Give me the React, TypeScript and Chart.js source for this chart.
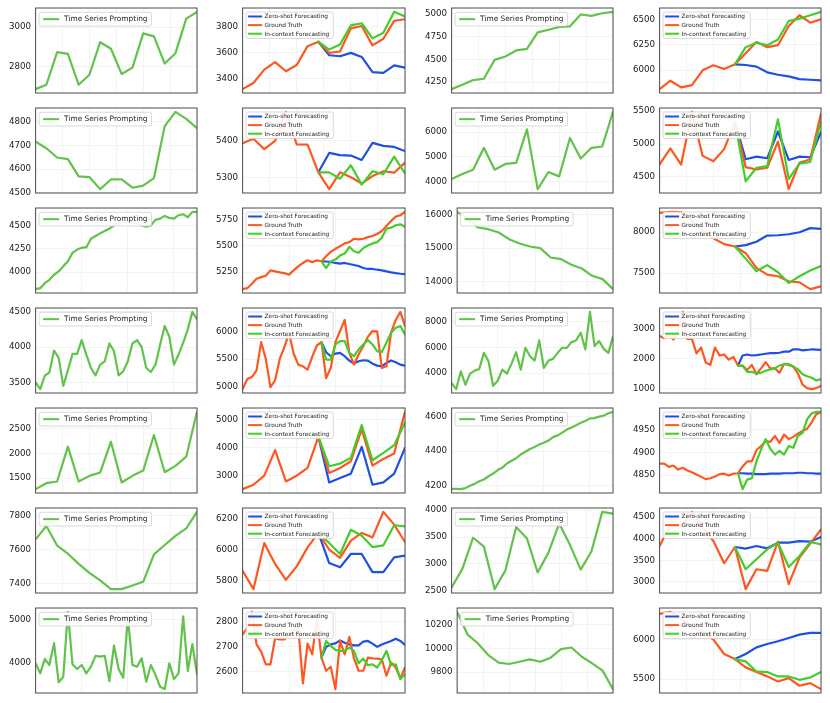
import React, { useEffect, useRef } from "react";
import { Chart, registerables } from "chart.js";

Chart.register(...registerables);

// ---------------- data ----------------
const r1c1Prompt = [2689, 2711, 2874, 2866, 2711, 2761, 2924, 2891, 2765, 2797, 2968, 2953, 2817, 2869, 3042, 3076];
const r1c1Ticks = [2800, 3000];

const r1c2Truth = [3317, 3364, 3468, 3525, 3455, 3504, 3649, 3683, 3597, 3608, 3787, 3805, 3655, 3706, 3844, 3857];
const r1c2ZeroShot = [3683, 3579, 3571, 3597, 3566, 3449, 3442, 3501, 3483];
const r1c2InContext = [3683, 3623, 3662, 3810, 3826, 3709, 3753, 3914, 3878];
const r1c2Ticks = [3400, 3600, 3800];

const r1c3Prompt = [4173, 4221, 4273, 4287, 4494, 4531, 4598, 4616, 4797, 4826, 4856, 4863, 4993, 4978, 5007, 5022];
const r1c3Ticks = [4250, 4500, 4750, 5000];

const r1c4Truth = [5809, 5893, 5826, 5849, 5997, 6047, 6010, 6057, 6168, 6279, 6228, 6248, 6440, 6547, 6473, 6507];
const r1c4ZeroShot = [6057, 6050, 6034, 5977, 5953, 5936, 5909, 5903, 5896];
const r1c4InContext = [6057, 6228, 6272, 6248, 6305, 6490, 6513, 6547, 6581];
const r1c4Ticks = [6000, 6250, 6500];

const r2c1Prompt = [4716, 4688, 4649, 4642, 4569, 4566, 4515, 4556, 4556, 4521, 4530, 4562, 4782, 4842, 4812, 4773];
const r2c1Ticks = [4500, 4600, 4700, 4800];

const r2c2Truth = [5393, 5405, 5377, 5399, 5477, 5390, 5389, 5315, 5270, 5315, 5302, 5285, 5305, 5318, 5314, 5341];
const r2c2ZeroShot = [5315, 5367, 5361, 5360, 5348, 5394, 5386, 5383, 5372];
const r2c2InContext = [5315, 5315, 5298, 5334, 5282, 5318, 5310, 5357, 5312];
const r2c2Ticks = [5300, 5400];

const r2c3Prompt = [4108, 4311, 4486, 5365, 4486, 4716, 4757, 6108, 3703, 4392, 4216, 5757, 4932, 5365, 5419, 6811];
const r2c3Ticks = [4000, 5000, 6000];

const r2c4Truth = [4691, 4933, 4686, 5490, 4820, 4737, 4923, 5335, 4649, 4613, 4639, 5036, 4314, 4716, 4768, 5464];
const r2c4ZeroShot = [5335, 4768, 4809, 4784, 5191, 4758, 4809, 4799, 5180];
const r2c4InContext = [5335, 4433, 4639, 4665, 5376, 4469, 4701, 4727, 5335];
const r2c4Ticks = [4500, 5000, 5500];

const r3c1Prompt = [3817, 3827, 3881, 3917, 3971, 4007, 4061, 4115, 4205, 4241, 4259, 4266, 4356, 4385, 4414, 4439, 4464, 4500, 4522, 4536, 4543, 4529, 4511, 4500, 4486, 4500, 4558, 4572, 4601, 4579, 4572, 4608, 4619, 4586, 4644, 4644];
const r3c1Ticks = [4000, 4250, 4500];

const r3c2Truth = [5088, 5097, 5139, 5186, 5202, 5215, 5266, 5256, 5247, 5240, 5225, 5266, 5304, 5336, 5361, 5342, 5361, 5352, 5400, 5441, 5470, 5495, 5521, 5533, 5565, 5559, 5565, 5581, 5591, 5610, 5639, 5686, 5734, 5775, 5788, 5820];
const r3c2ZeroShot = [5352, 5350, 5345, 5336, 5330, 5336, 5326, 5317, 5307, 5288, 5279, 5279, 5272, 5266, 5256, 5247, 5240, 5234, 5231];
const r3c2InContext = [5352, 5288, 5352, 5368, 5406, 5425, 5489, 5447, 5432, 5476, 5502, 5521, 5533, 5575, 5661, 5670, 5693, 5702, 5680];
const r3c2Ticks = [5250, 5500, 5750];

const r3c3Prompt = [16080, 15881, 15612, 15562, 15463, 15264, 15134, 15045, 14995, 14716, 14667, 14498, 14388, 14169, 14070, 13771];
const r3c3Ticks = [14000, 15000, 16000];

const r3c4Truth = [8235, 8248, 8245, 8145, 8021, 7926, 7855, 7826, 7744, 7566, 7483, 7463, 7401, 7388, 7306, 7339];
const r3c4ZeroShot = [7826, 7843, 7884, 7959, 7963, 7975, 8000, 8050, 8041];
const r3c4InContext = [7826, 7678, 7525, 7599, 7512, 7380, 7463, 7533, 7587];
const r3c4Ticks = [7500, 8000];

const r4c1Prompt = [3500, 3405, 3595, 3643, 3952, 3848, 3452, 3671, 3905, 3905, 4100, 3895, 3705, 3600, 3752, 3800, 4052, 3943, 3600, 3657, 3800, 4052, 4100, 4000, 3705, 3648, 3752, 4038, 4300, 4148, 3752, 3895, 4062, 4252, 4500, 4395];
const r4c1Ticks = [3500, 4000, 4500];

const r4c2Truth = [4958, 5139, 5176, 5297, 5806, 5503, 4994, 5115, 5503, 5715, 5964, 5600, 5400, 5370, 5309, 5539, 5745, 5806, 5158, 5339, 5806, 6006, 6206, 5612, 5400, 5582, 5733, 5903, 6006, 6000, 5339, 5370, 5976, 6206, 6352, 6097];
const r4c2ZeroShot = [5806, 5624, 5552, 5600, 5612, 5552, 5473, 5418, 5461, 5479, 5473, 5418, 5382, 5370, 5430, 5473, 5442, 5400, 5382];
const r4c2InContext = [5806, 5491, 5491, 5764, 5824, 5824, 5612, 5552, 5673, 5764, 5842, 5764, 5642, 5630, 5794, 5976, 6067, 6097, 5945];
const r4c2Ticks = [5000, 5500, 6000];

const r4c3Prompt = [3216, 2745, 4131, 3085, 3948, 4183, 4314, 5569, 4915, 3007, 3399, 4261, 3948, 4732, 5621, 4261, 5961, 5307, 4967, 6536, 4392, 4967, 5098, 5569, 5961, 5961, 6405, 6536, 7137, 5830, 8758, 6092, 6484, 5882, 5569, 6824];
const r4c3Ticks = [4000, 6000, 8000];

const r4c4Truth = [2747, 2678, 2793, 2632, 3000, 3550, 2655, 2655, 2172, 2368, 1874, 1793, 2368, 2103, 2138, 1966, 2057, 1770, 1770, 1621, 1793, 1483, 1678, 1885, 1678, 1678, 1529, 1828, 1793, 1736, 1506, 1138, 1023, 989, 1023, 1103];
const r4c4ZeroShot = [1770, 2103, 2138, 2103, 2115, 2138, 2161, 2184, 2184, 2195, 2230, 2230, 2310, 2310, 2276, 2287, 2310, 2299, 2287];
const r4c4InContext = [1770, 1759, 1563, 1563, 1506, 1529, 1598, 1644, 1678, 1770, 1816, 1816, 1736, 1644, 1483, 1414, 1368, 1276, 1322];
const r4c4Ticks = [1000, 2000, 3000];

const r5c1Prompt = [1280, 1400, 1433, 2133, 1433, 1547, 1613, 2233, 1413, 1547, 1653, 2367, 1620, 1747, 1933, 2833];
const r5c1Ticks = [1500, 2000, 2500];

const r5c2Truth = [2518, 2675, 3000, 3916, 2795, 3000, 3277, 4398, 3096, 3277, 3518, 4663, 3361, 3602, 3795, 5289];
const r5c2ZeroShot = [4398, 2759, 2916, 3072, 4036, 2675, 2759, 3072, 4000];
const r5c2InContext = [4398, 3337, 3434, 3639, 4819, 3554, 3819, 4096, 4904];
const r5c2Ticks = [3000, 4000, 5000];

const r5c3Prompt = [4180, 4180, 4178, 4184, 4198, 4210, 4224, 4234, 4253, 4269, 4289, 4303, 4327, 4343, 4358, 4380, 4396, 4412, 4424, 4438, 4448, 4461, 4481, 4491, 4507, 4525, 4537, 4550, 4564, 4575, 4590, 4592, 4600, 4606, 4620, 4628];
const r5c3Ticks = [4200, 4400, 4600];

const r5c4Truth = [4875, 4875, 4868, 4871, 4862, 4866, 4860, 4856, 4851, 4846, 4841, 4843, 4847, 4852, 4853, 4849, 4853, 4854, 4869, 4880, 4880, 4905, 4914, 4925, 4923, 4936, 4921, 4939, 4929, 4934, 4941, 4947, 4952, 4966, 4984, 4988];
const r5c4ZeroShot = [4854, 4854, 4853, 4853, 4852, 4852, 4852, 4853, 4853, 4853, 4854, 4854, 4854, 4855, 4855, 4854, 4854, 4853, 4853];
const r5c4InContext = [4854, 4819, 4840, 4843, 4880, 4906, 4929, 4908, 4895, 4903, 4895, 4914, 4910, 4936, 4943, 4973, 4986, 4989, 4989];
const r5c4Ticks = [4850, 4900, 4950];

const r6c1Prompt = [7660, 7738, 7624, 7576, 7517, 7464, 7420, 7369, 7369, 7390, 7412, 7572, 7627, 7681, 7724, 7821];
const r6c1Ticks = [7400, 7600, 7800];

const r6c2Truth = [5863, 5743, 6043, 5907, 5804, 5891, 6015, 6109, 6000, 5946, 6059, 6109, 6080, 6246, 6163, 6050];
const r6c2ZeroShot = [6109, 5913, 5885, 5972, 5972, 5854, 5854, 5950, 5961];
const r6c2InContext = [6109, 6043, 5972, 6130, 6091, 6017, 6028, 6159, 6152];
const r6c2Ticks = [5800, 6000, 6200];

const r6c3Prompt = [2566, 2908, 3487, 3322, 2533, 2882, 3684, 3474, 2842, 3211, 3750, 3355, 2895, 3237, 3967, 3934];
const r6c3Ticks = [2500, 3000, 3500, 4000];

const r6c4Truth = [3831, 4315, 4269, 4623, 4254, 3946, 3431, 3808, 2831, 3292, 3254, 3931, 2946, 3562, 3885, 4215];
const r6c4ZeroShot = [3808, 3769, 3831, 3777, 3908, 3908, 3946, 3931, 4038];
const r6c4InContext = [3808, 3292, 3523, 3754, 3908, 3346, 3600, 3923, 3869];
const r6c4Ticks = [3000, 3500, 4000, 4500];

const r7c1Prompt = [3984, 3750, 4086, 3945, 4453, 3539, 3672, 5180, 3961, 3852, 3945, 3750, 3906, 4156, 4141, 4156, 3570, 4398, 3852, 3648, 5050, 3945, 3906, 4102, 3555, 3945, 3711, 3438, 3383, 3984, 3617, 3750, 5078, 3805, 4430, 3727];
const r7c1Ticks = [4000, 5000];

const r7c2Truth = [2749, 2776, 2840, 2709, 2680, 2629, 2629, 2733, 2729, 2729, 2747, 2765, 2776, 2552, 2712, 2669, 2813, 2656, 2603, 2619, 2529, 2723, 2669, 2739, 2653, 2603, 2603, 2656, 2653, 2652, 2649, 2583, 2636, 2616, 2573, 2616];
const r7c2ZeroShot = [2656, 2699, 2709, 2713, 2725, 2716, 2709, 2705, 2705, 2720, 2723, 2712, 2699, 2709, 2716, 2723, 2732, 2723, 2707];
const r7c2InContext = [2656, 2723, 2703, 2687, 2683, 2683, 2696, 2683, 2633, 2652, 2625, 2629, 2616, 2645, 2683, 2627, 2629, 2569, 2589];
const r7c2Ticks = [2600, 2700, 2800];

const r7c3Prompt = [10308, 10117, 10042, 9944, 9880, 9869, 9888, 9908, 9888, 9922, 9994, 10008, 9930, 9874, 9813, 9657];
const r7c3Ticks = [9800, 10000, 10200];

const r7c4Truth = [6333, 6359, 6282, 6154, 6111, 6004, 5821, 5756, 5650, 5590, 5535, 5470, 5513, 5415, 5449, 5372];
const r7c4ZeroShot = [5756, 5821, 5906, 5949, 5983, 6026, 6068, 6090, 6090];
const r7c4InContext = [5756, 5726, 5598, 5590, 5534, 5534, 5491, 5521, 5590];
const r7c4Ticks = [5500, 6000];

const promptLabel = "Time Series Prompting";
const zeroShotLabel = "Zero-shot Forecasting";
const truthLabel = "Ground Truth";
const inContextLabel = "In-context Forecasting";

// ---------------- panel specs ----------------
type Spec = {
  prompt?: number[];
  truth?: number[];
  zero?: number[];
  ctx?: number[];
  ticks: number[];
};

const P = (prompt: number[], ticks: number[]): Spec => ({ prompt, ticks });
const F = (truth: number[], zero: number[], ctx: number[], ticks: number[]): Spec => ({ truth, zero, ctx, ticks });

const grid: Spec[][] = [
  [P(r1c1Prompt, r1c1Ticks), F(r1c2Truth, r1c2ZeroShot, r1c2InContext, r1c2Ticks), P(r1c3Prompt, r1c3Ticks), F(r1c4Truth, r1c4ZeroShot, r1c4InContext, r1c4Ticks)],
  [P(r2c1Prompt, r2c1Ticks), F(r2c2Truth, r2c2ZeroShot, r2c2InContext, r2c2Ticks), P(r2c3Prompt, r2c3Ticks), F(r2c4Truth, r2c4ZeroShot, r2c4InContext, r2c4Ticks)],
  [P(r3c1Prompt, r3c1Ticks), F(r3c2Truth, r3c2ZeroShot, r3c2InContext, r3c2Ticks), P(r3c3Prompt, r3c3Ticks), F(r3c4Truth, r3c4ZeroShot, r3c4InContext, r3c4Ticks)],
  [P(r4c1Prompt, r4c1Ticks), F(r4c2Truth, r4c2ZeroShot, r4c2InContext, r4c2Ticks), P(r4c3Prompt, r4c3Ticks), F(r4c4Truth, r4c4ZeroShot, r4c4InContext, r4c4Ticks)],
  [P(r5c1Prompt, r5c1Ticks), F(r5c2Truth, r5c2ZeroShot, r5c2InContext, r5c2Ticks), P(r5c3Prompt, r5c3Ticks), F(r5c4Truth, r5c4ZeroShot, r5c4InContext, r5c4Ticks)],
  [P(r6c1Prompt, r6c1Ticks), F(r6c2Truth, r6c2ZeroShot, r6c2InContext, r6c2Ticks), P(r6c3Prompt, r6c3Ticks), F(r6c4Truth, r6c4ZeroShot, r6c4InContext, r6c4Ticks)],
  [P(r7c1Prompt, r7c1Ticks), F(r7c2Truth, r7c2ZeroShot, r7c2InContext, r7c2Ticks), P(r7c3Prompt, r7c3Ticks), F(r7c4Truth, r7c4ZeroShot, r7c4InContext, r7c4Ticks)],
];

// ---------------- styles / layout ----------------
const COL_PROMPT = "#62c24b";
const COL_BLUE = "#1f4fe3";
const COL_ORANGE = "#ff5722";
const COL_GREEN = "#45cc2a";
const FONT = '"DejaVu Sans", Verdana, sans-serif';

const canvasLefts = [0, 207, 416, 624];
const plotRights = [197, 405, 613, 821];
const PAD_L = 4.5;
const PAD_R = 2;
const PAD_V = 6;
const PLOT_H = 85;
const rowTop = (r: number) => 8 + r * 100;

type LegendItem = { label: string; color: string };

function roundRect(ctx: CanvasRenderingContext2D, x: number, y: number, w: number, h: number, r: number) {
  ctx.beginPath();
  ctx.moveTo(x + r, y);
  ctx.lineTo(x + w - r, y);
  ctx.arcTo(x + w, y, x + w, y + r, r);
  ctx.lineTo(x + w, y + h - r);
  ctx.arcTo(x + w, y + h, x + w - r, y + h, r);
  ctx.lineTo(x + r, y + h);
  ctx.arcTo(x, y + h, x, y + h - r, r);
  ctx.lineTo(x, y + r);
  ctx.arcTo(x, y, x + r, y, r);
  ctx.closePath();
}

function decorPlugin(items: LegendItem[], small: boolean) {
  return {
    id: "decor",
    afterDraw(chart: any) {
      const ctx: CanvasRenderingContext2D = chart.ctx;
      const a = chart.chartArea;
      ctx.save();
      // frame
      ctx.strokeStyle = "#4a4a4a";
      ctx.lineWidth = 1;
      ctx.strokeRect(a.left, a.top, a.right - a.left, a.bottom - a.top);
      // legend
      if (!small) {
        ctx.font = `7.4px ${FONT}`;
        const tw = ctx.measureText(items[0].label).width;
        const x = a.left + 3.5, y = a.top + 4.3;
        const w = 25 + tw + 4, h = 13.7;
        roundRect(ctx, x, y, w, h, 2);
        ctx.fillStyle = "rgba(255,255,255,0.9)";
        ctx.fill();
        ctx.strokeStyle = "#d0d0d0";
        ctx.lineWidth = 0.8;
        ctx.stroke();
        ctx.strokeStyle = items[0].color;
        ctx.lineWidth = 2;
        ctx.beginPath();
        ctx.moveTo(x + 4, y + h / 2);
        ctx.lineTo(x + 20, y + h / 2);
        ctx.stroke();
        ctx.fillStyle = "#222";
        ctx.textBaseline = "middle";
        ctx.fillText(items[0].label, x + 25, y + h / 2 + 0.3);
      } else {
        ctx.font = `5.8px ${FONT}`;
        const tw = Math.max(...items.map((it) => ctx.measureText(it.label).width));
        const x = a.left + 3.5, y = a.top + 4;
        const w = 2 + 14 + 2.5 + tw + 4, h = 26.5;
        roundRect(ctx, x, y, w, h, 2);
        ctx.fillStyle = "rgba(255,255,255,0.9)";
        ctx.fill();
        ctx.strokeStyle = "#d0d0d0";
        ctx.lineWidth = 0.8;
        ctx.stroke();
        items.forEach((it, i) => {
          const cy = y + 4.5 + i * 8.6;
          ctx.strokeStyle = it.color;
          ctx.lineWidth = 2;
          ctx.beginPath();
          ctx.moveTo(x + 2, cy);
          ctx.lineTo(x + 16, cy);
          ctx.stroke();
          ctx.fillStyle = "#222";
          ctx.textBaseline = "middle";
          ctx.fillText(it.label, x + 18.5, cy + 0.3);
        });
      }
      ctx.restore();
    },
  };
}

function buildConfig(spec: Spec): any {
  const toPts = (arr: number[], off = 0) => arr.map((v, i) => ({ x: i + off, y: v }));
  const lineDs = (label: string, data: any[], color: string) => ({
    label,
    data,
    borderColor: color,
    backgroundColor: color,
    borderWidth: 2.2,
    pointRadius: 0,
    pointHoverRadius: 0,
    tension: 0,
    fill: false,
    borderJoinStyle: "round",
    borderCapStyle: "round",
  });
  let datasets: any[];
  let items: LegendItem[];
  let n: number;
  if (spec.truth && spec.zero && spec.ctx) {
    n = spec.truth.length;
    const start = n - spec.zero.length;
    datasets = [
      lineDs(inContextLabel, toPts(spec.ctx, start), COL_GREEN),
      lineDs(truthLabel, toPts(spec.truth), COL_ORANGE),
      lineDs(zeroShotLabel, toPts(spec.zero, start), COL_BLUE),
    ];
    items = [
      { label: zeroShotLabel, color: COL_BLUE },
      { label: truthLabel, color: COL_ORANGE },
      { label: inContextLabel, color: COL_GREEN },
    ];
  } else {
    const pr = spec.prompt as number[];
    n = pr.length;
    datasets = [lineDs(promptLabel, toPts(pr), COL_PROMPT)];
    items = [{ label: promptLabel, color: COL_PROMPT }];
  }
  const all: number[] = datasets.flatMap((d) => d.data.map((p: any) => p.y));
  const lo = Math.min(...all);
  const hi = Math.max(...all);
  const m = (hi - lo) * 0.05;
  const ymin = lo - m;
  const ymax = hi + m;
  const xStep = n - 1 <= 20 ? 2.5 : 10;
  const xTicks: number[] = [];
  for (let v = 0; v <= n - 1 + 1e-9; v += xStep) xTicks.push(v);
  const yTicks = spec.ticks.filter((v) => v >= ymin && v <= ymax);

  return {
    type: "line",
    data: { datasets },
    options: {
      animation: false,
      responsive: false,
      maintainAspectRatio: false,
      events: [],
      layout: { padding: { left: PAD_L, right: PAD_R, top: PAD_V, bottom: PAD_V } },
      plugins: { legend: { display: false }, tooltip: { enabled: false }, title: { display: false } },
      scales: {
        x: {
          type: "linear",
          min: 0,
          max: n - 1,
          ticks: { display: false },
          grid: { color: "#f0f0f0", lineWidth: 0.8, drawTicks: false },
          border: { display: false },
          afterBuildTicks: (s: any) => {
            s.ticks = xTicks.map((v) => ({ value: v }));
          },
        },
        y: {
          type: "linear",
          min: ymin,
          max: ymax,
          ticks: {
            includeBounds: false,
            padding: 4.5,
            color: "#222",
            font: { family: FONT, size: 8.7 },
            callback: (v: any) => String(v),
          },
          grid: { color: "#f0f0f0", lineWidth: 0.8, drawTicks: false },
          border: { display: false },
          afterBuildTicks: (s: any) => {
            s.ticks = yTicks.map((v) => ({ value: v }));
          },
          afterFit: (s: any) => {
            s.paddingTop = 0;
            s.paddingBottom = 0;
          },
        },
      },
    },
    plugins: [decorPlugin(items, !!spec.truth)],
  };
}

function Panel({ spec, left, top, width, height }: { spec: Spec; left: number; top: number; width: number; height: number }) {
  const ref = useRef<HTMLCanvasElement>(null);
  useEffect(() => {
    if (!ref.current) return;
    const chart = new Chart(ref.current, buildConfig(spec));
    return () => chart.destroy();
  }, [spec]);
  return (
    <div style={{ position: "absolute", left, top, width, height }}>
      <canvas ref={ref} width={width} height={height} style={{ width, height, display: "block" }} />
    </div>
  );
}

export default function App() {
  const panels: React.ReactNode[] = [];
  grid.forEach((row, r) => {
    row.forEach((spec, c) => {
      const left = canvasLefts[c];
      const width = plotRights[c] + PAD_R - left;
      const top = rowTop(r) - PAD_V;
      const height = PLOT_H + 2 * PAD_V;
      panels.push(<Panel key={`${r}-${c}`} spec={spec} left={left} top={top} width={width} height={height} />);
    });
  });
  return (
    <div style={{ position: "absolute", left: 0, top: 0, width: 830, height: 703, background: "#fff", overflow: "hidden" }}>
      {panels}
    </div>
  );
}
